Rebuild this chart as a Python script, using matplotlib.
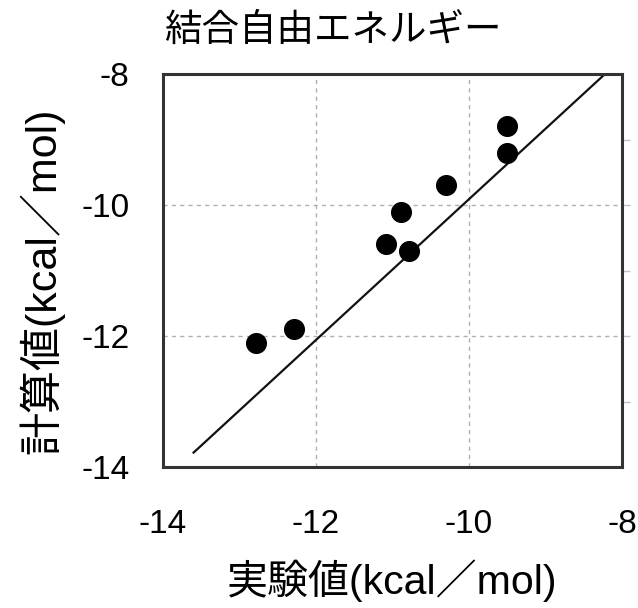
import matplotlib
matplotlib.use("Agg")
import matplotlib.pyplot as plt
import numpy as np

plt.rcParams['axes.unicode_minus'] = False

# data
experimental = [-12.78, -12.29, -11.09, -10.89, -10.79, -10.30, -9.50, -9.50]
calculated = [-12.10, -11.90, -10.60, -10.10, -10.70, -9.70, -8.80, -9.20]
fit_x = [-13.6, -8.25]
fit_y = [-13.78, -8.03]
ticks = [-14, -12, -10, -8]
minor_right = [-13, -12, -11, -10, -9]

title = "結合自由エネルギー"
xlabel = "実験値(kcal／mol)"
ylabel = "計算値(kcal／mol)"

fam = ['Liberation Sans', 'Noto Sans CJK JP']

fig = plt.figure(figsize=(6.38, 6.08), dpi=100)
ax = fig.add_axes([163/638, 1-467/608, (622-163)/638, (467-74)/608])

ax.set_xlim(-14, -8)
ax.set_ylim(-14, -8)

ax.grid(True, linestyle=(0, (3, 3)), color='#b0b0b0', linewidth=1.0)
ax.set_axisbelow(True)

ax.plot(fit_x, fit_y, color='#111111', linewidth=1.6, zorder=2)
ax.scatter(experimental, calculated, s=200, color='black', zorder=3)

ax.set_xticks(ticks)
ax.set_yticks(ticks)
ax.tick_params(axis='both', length=0, labelsize=24)
ax.tick_params(axis='x', pad=30)
ax.tick_params(axis='y', pad=24)
for lab in ax.get_xticklabels() + ax.get_yticklabels():
    lab.set_fontfamily('Liberation Sans')

# small ticks on right side
sec = ax.secondary_yaxis('right')
sec.set_yticks(minor_right)
sec.set_yticklabels([])
sec.tick_params(axis='y', length=6, width=1, color='#c0c0c0', direction='out')
sec.spines['right'].set_visible(False)

for sp in ax.spines.values():
    sp.set_linewidth(2.2)
    sp.set_color('#333333')

ax.set_title(title, fontsize=27, family=fam, pad=24, x=0.37)
ax.set_xlabel(xlabel, fontsize=29.5, family=fam, labelpad=14)
ax.set_ylabel(ylabel, fontsize=31, family=fam, labelpad=12)
ax.yaxis.label.set_y(0.475)

fig.savefig("out.png", dpi=100)
